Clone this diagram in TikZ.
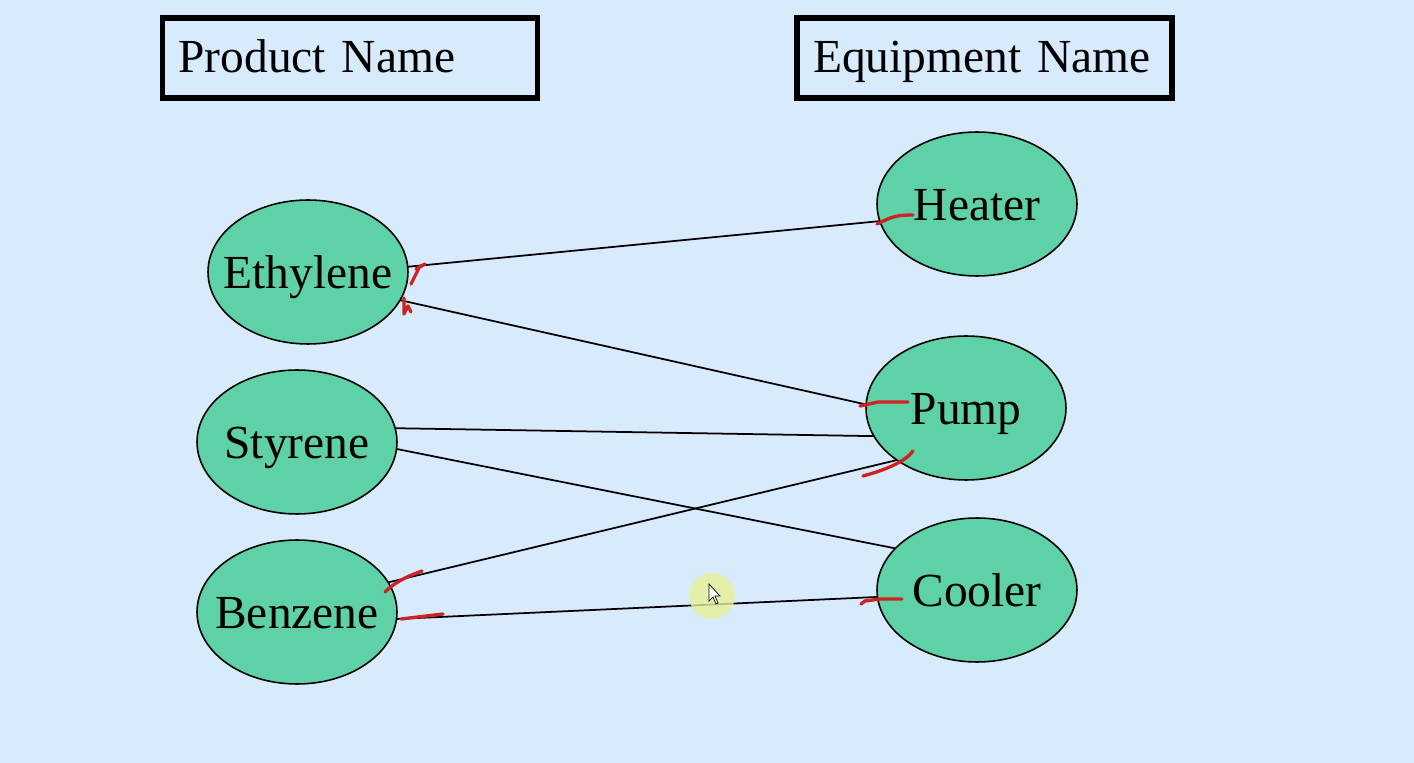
\documentclass[tikz,border=0pt]{standalone}
\usepackage{fontspec}
\setmainfont{Liberation Serif}
\usepackage{tikz}
\usetikzlibrary{shapes.geometric}

\definecolor{slidebg}{RGB}{215,235,252}
\definecolor{blobfill}{RGB}{94,209,166}
\definecolor{inkred}{RGB}{205,35,35}
\definecolor{pointer}{RGB}{232,240,150}

\begin{document}
\begin{tikzpicture}[x=0.02cm,y=-0.02cm,
    blob/.style={ellipse,draw,fill=blobfill,line width=0.9pt,
      minimum width=4cm,minimum height=2.88cm,inner sep=0pt,outer sep=0pt},
    every label/.style={font=\fontsize{27}{32}\selectfont,inner sep=0pt,
      text height=0.68cm,text depth=0pt},
    titlebox/.style={rectangle,draw,line width=3pt,minimum width=7.5cm,
      minimum height=1.6cm,inner xsep=0.32cm,inner ysep=0pt,text width=6.86cm,
      text height=0.6cm,text depth=0pt,
      align=left,font=\fontsize{27}{32}\selectfont},
    link/.style={line width=1pt},
    ink/.style={inkred,line width=1.9pt,line cap=round,line join=round}]
      \fill[slidebg] (0,0) rectangle (1414,763);
      \useasboundingbox (0,0) rectangle (1414,763);
      % headings
      \node[titlebox] (prod) at (350,58) {Product Name};
      \node[titlebox] (equip) at (984.5,58) {Equipment Name};
      % products
      \node[blob,label=center:Ethylene] (eth) at (308,272) {};
      \node[blob,label=center:Styrene] (sty) at (297,442) {};
      \node[blob,label=center:Benzene] (ben) at (297,612) {};
      % equipment
      \node[blob,label=center:Heater] (heat) at (977,204) {};
      \node[blob,label=center:Pump] (pump) at (966,408) {};
      \node[blob,label=center:Cooler] (cool) at (977,590) {};
      % links
      \draw[link] (eth.3) -- (heat.190);
      \draw[link] (eth.-17) -- (pump.178);
      \draw[link] (sty.8) -- (pump.197);
      \draw[link] (sty.-4) -- (cool.153);
      \draw[link] (ben.18) -- (pump.217);
      \draw[link] (ben.-4) -- (cool.184);
      % red pen marks
      \draw[ink] (411,284) -- (420,266) (416,269) -- (425,264);
      \draw[ink] (404,298) -- (404,314) -- (408,306) -- (411,312);
      \draw[ink] (877,224) .. controls (893,216) and (898,215) .. (913,215);
      \draw[ink] (860,406) -- (878,402) -- (908,402);
      \draw[ink] (863,476) .. controls (885,470) and (905,462) .. (913,451);
      \draw[ink] (385,592) .. controls (395,582) and (408,576) .. (422,571);
      \draw[ink] (401,619) -- (443,614);
      \draw[ink] (861,604) -- (865,601) -- (880,599) -- (902,599);
      % pointer
      \fill[pointer,opacity=0.8] (712,596) circle (23);
      \draw[fill=white,line width=0.4pt] (709,584) -- (709,601) -- (713,597)
        -- (716,604) -- (718,603) -- (715,596) -- (720,596) -- cycle;
    \end{tikzpicture}
\end{document}
